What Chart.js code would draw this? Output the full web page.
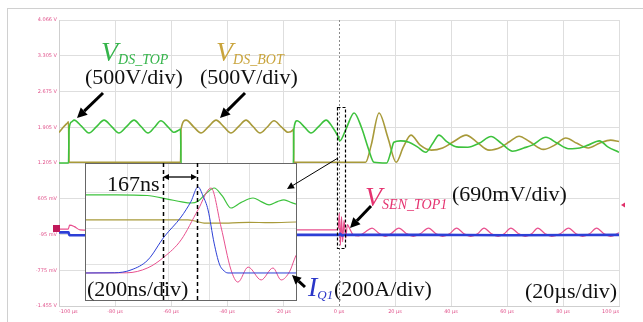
<!DOCTYPE html>
<html>
<head>
<meta charset="utf-8">
<script src="https://cdn.jsdelivr.net/npm/chart.js@4/dist/chart.umd.min.js"></script>
<style>
  html,body{margin:0;padding:0;background:#fff;}
  body{width:643px;height:322px;position:relative;overflow:hidden;}
  #frame{position:absolute;left:7px;top:8px;width:700px;height:400px;border:1px solid #d0d0d0;}
  #main{position:absolute;left:0;top:0;}
  #insetBox{position:absolute;left:85px;top:163px;width:210px;height:136px;border:1px solid #666;background:#fff;}
  #ins{position:absolute;left:0;top:0;}
  #ann{position:absolute;left:0;top:0;}
  .t{position:absolute;font-family:"Liberation Serif","Times New Roman",serif;font-size:22px;line-height:22px;color:#111;white-space:nowrap;}
  .c{position:absolute;font-family:"Liberation Serif","Times New Roman",serif;font-style:italic;line-height:28px;white-space:nowrap;}
  .c .big{font-size:28px;}
  .c .sub{font-size:14px;position:relative;top:3px;}
</style>
</head>
<body>
<div id="frame"></div>
<canvas id="main" width="643" height="322"></canvas>
<div id="insetBox"><canvas id="ins" width="210" height="136"></canvas></div>
<canvas id="ann" width="643" height="322"></canvas>

<div class="c" style="left:101px;top:38px;color:#34b44a;"><span class="big">V</span><span class="sub">DS_TOP</span></div>
<div class="t" style="left:85px;top:66px;">(500V/div)</div>
<div class="c" style="left:216px;top:38px;color:#c9a43c;"><span class="big">V</span><span class="sub">DS_BOT</span></div>
<div class="t" style="left:200px;top:66px;">(500V/div)</div>
<div class="t" style="left:107px;top:173px;">167ns</div>
<div class="t" style="left:87px;top:278px;">(200ns/div)</div>
<div class="c" style="left:365px;top:183px;color:#e53370;"><span class="big">V</span><span class="sub">SEN_TOP1</span></div>
<div class="t" style="left:452px;top:183px;">(690mV/div)</div>
<div class="c" style="left:308px;top:273px;color:#2a36c8;"><span class="big">I</span><span class="sub" style="font-size:13px;">Q1</span></div>
<div class="t" style="left:334px;top:278px;">(200A/div)</div>
<div class="t" style="left:525px;top:280px;">(20µs/div)</div>

<script>
// ---------- tick labels ----------
const xTickLabels = ['-100 µs','-80 µs','-60 µs','-40 µs','-20 µs','0 µs','20 µs','40 µs','60 µs','80 µs','100 µs'];
const yTickLabels = ['-1.455 V','-775 mV','-95 mV','605 mV','1.205 V','1.905 V','2.675 V','3.305 V','4.066 V'];

// ---------- main screen traces: [time µs, divisions] ----------
const vdsTop = [
 [-100,4.0],[-96.6,4.0],[-96.4,4.95],[-95.5,5.15],[-94.6,5.2],[-92,5.03],[-89.3,4.84],[-86.6,5.02],[-83.9,5.2],
 [-81.2,5.02],[-78.6,4.84],[-75.9,5.02],[-73.2,5.2],[-70.7,5.02],[-68.2,4.84],[-65.9,5.0],[-63.6,5.18],
 [-61.2,5.02],[-58.9,4.86],[-57.2,4.92],[-56.6,4.95],[-56.4,3.98],[-16.3,3.98],[-16.1,4.95],[-15.0,5.18],
 [-12.5,5.02],[-10,4.84],[-7.3,5.02],[-4.6,5.2],[-2.3,5.0],[-0.4,4.75],[0.3,4.62],[2.5,4.95],[5.4,5.4],
 [8,5.0],[10.5,4.4],[12.5,4.02],[17,4.0],[18.5,4.3],[19.6,4.58],[22,4.62],[25,4.58],[28,4.45],[31,4.3],
 [33.5,4.55],[35.7,4.78],[38.5,4.6],[42,4.45],[46,4.44],[50,4.55],[54.3,4.74],[58,4.55],[62,4.33],[66,4.42],
 [69,4.5],[73.9,4.72],[78,4.55],[82,4.4],[86,4.42],[89,4.5],[93,4.62],[96,4.45],[100,4.3]
];
const vdsBot = [
 [-100,4.85],[-98.5,5.0],[-97,5.12],[-96.6,5.15],[-96.4,4.02],[-56.6,4.02],[-56.4,4.95],[-54.6,5.2],
 [-52,5.02],[-49.3,4.84],[-46.6,5.02],[-43.9,5.2],[-41.2,5.02],[-38.6,4.84],[-35.9,5.02],[-33.2,5.2],
 [-30.7,5.02],[-28.2,4.84],[-25.7,5.0],[-23.2,5.18],[-20.7,5.02],[-18.2,4.86],[-16.5,4.92],[-16.3,4.95],
 [-16.1,4.02],[9.5,4.02],[11.5,4.5],[14.3,5.4],[17.5,4.7],[20.4,4.02],[23,4.45],[25.7,4.78],[29,4.5],
 [33,4.36],[37,4.42],[41,4.6],[45.4,4.78],[49,4.6],[53.6,4.36],[58,4.45],[61,4.6],[64.3,4.75],[68,4.6],
 [73,4.38],[77,4.5],[81,4.7],[85,4.55],[89,4.42],[93,4.55],[97,4.64],[100,4.6]
];
const vsenTop = [
 [-100,2.15],[-96.7,2.15],[-96.2,2.26],[-94.5,2.22],[-92.5,2.13],[-85,2.12],[-16,2.13],[-1,2.13],
 [-0.2,2.2],[0.1,2.6],[0.5,1.7],[0.9,2.5],[1.3,1.8],[1.8,2.4],[2.4,1.9],[3.0,2.28],[3.6,2.2],[5,2.0],
 [7,1.96],[9,2.05],[11.8,2.18],[14,2.05],[16.5,1.95],[18.5,2.02],[21.4,2.18],[24,2.03],[26.5,1.95],
 [29,2.02],[32,2.18],[34.5,2.03],[37,1.95],[39.5,2.02],[42,2.18],[44.5,2.03],[47,1.95],[49.5,2.02],
 [51.8,2.18],[54.3,2.03],[56.8,1.95],[59,2.02],[61.4,2.18],[64,2.03],[66.5,1.95],[68.8,2.02],[71,2.18],
 [73.5,2.03],[76,1.95],[79,2.02],[82,2.18],[84.5,2.03],[87,1.95],[89.5,2.02],[92,2.18],[94.5,2.03],
 [97,1.95],[100,2.05]
];
const iq1 = [
 [-100,2.06],[-96.6,2.06],[-96.3,1.98],[-85,1.98],[-16,1.99],[0,1.99],[0.5,2.02],[1,1.97],[2,1.99],
 [30,1.99],[60,1.98],[100,1.99]
];

// ---------- inset (zoom) traces: [time ns, divisions] ----------
const insTop = [
 [0,2.94],[150,2.94],[300,2.92],[400,2.82],[470,2.74],[515,2.71],[550,2.76],[590,2.98],[629,3.13],
 [670,2.9],[712,2.57],[760,2.72],[820,2.85],[860,2.75],[899,2.66],[940,2.75],[972,2.8],[1010,2.72],[1031,2.68]
];
const insBot = [
 [0,2.24],[500,2.24],[540,2.2],[580,2.15],[700,2.15],[800,2.17],[900,2.16],[1031,2.18]
];
const insSen = [
 [0,0.755],[200,0.76],[304,0.9],[383,1.2],[467,1.68],[550,2.52],[614,3.13],[663,2.04],[712,0.84],
 [746,0.5],[796,0.92],[860,0.56],[918,0.895],[958,0.56],[1000,0.8],[1022,1.12],[1031,1.25]
];
const insIq = [
 [0,0.755],[140,0.76],[221,0.84],[304,1.12],[383,1.76],[467,2.32],[515,2.75],[550,3.16],[575,2.9],
 [599,2.52],[629,1.59],[655,1.0],[673,0.84],[697,0.755],[1031,0.755]
];

const toXY = a => a.map(p => ({x:p[0], y:p[1]}));
const GREEN = '#3dc23d', OLIVE = '#a89a3a', PINK = '#e8508e', BLUE = '#2c3fd6';

const zeroLine = {
  id:'zeroLine',
  beforeDatasetsDraw(chart){
    const {ctx, chartArea:a, scales:{x}} = chart;
    const px = Math.round(x.getPixelForValue(0))+0.5;
    ctx.save();
    ctx.strokeStyle='#8a8a8a'; ctx.lineWidth=1; ctx.setLineDash([2,2]);
    ctx.beginPath(); ctx.moveTo(px,a.top); ctx.lineTo(px,a.bottom); ctx.stroke();
    ctx.restore();
  }
};

new Chart(document.getElementById('main'), {
  type:'line',
  data:{datasets:[
    {data:toXY(iq1), borderColor:BLUE, borderWidth:2.6},
    {data:toXY(vsenTop), borderColor:PINK, borderWidth:1.2},
    {data:toXY(vdsTop), borderColor:GREEN, borderWidth:1.6},
    {data:toXY(vdsBot), borderColor:OLIVE, borderWidth:1.6}
  ]},
  options:{
    responsive:false, animation:false, devicePixelRatio:1,
    elements:{point:{radius:0}, line:{cubicInterpolationMode:'monotone'}},
    plugins:{legend:{display:false}, tooltip:{enabled:false}},
    layout:{padding:{top:20,right:24,left:0,bottom:0}},
    scales:{
      x:{type:'linear', min:-100, max:100,
         afterFit(s){ s.height = 16; },
         ticks:{stepSize:20, autoSkip:false, maxRotation:0, align:'inner', padding:3,
                font:{size:5, family:'DejaVu Sans'}, color:'#e0508a',
                callback:(v,i)=>xTickLabels[i]},
         grid:{color:c=> (c.tick && c.tick.value===0) ? 'rgba(0,0,0,0)' : '#dedede', drawTicks:false},
         border:{color:'#cfcfcf'}},
      y:{type:'linear', min:0, max:8,
         afterFit(s){ s.width = 59; },
         ticks:{stepSize:1, autoSkip:false, align:'inner', padding:2,
                font:{size:5, family:'DejaVu Sans'}, color:'#e0508a',
                callback:(v,i)=>yTickLabels[i]},
         grid:{color:'#dedede', drawTicks:false},
         border:{color:'#cfcfcf'}}
    }
  },
  plugins:[zeroLine]
});

const insetGridX = [205, 405, 605, 805];
const insetGridY = [1.0, 2.0, 3.0];

new Chart(document.getElementById('ins'), {
  type:'line',
  data:{datasets:[
    {data:toXY(insIq), borderColor:BLUE, borderWidth:1},
    {data:toXY(insSen), borderColor:PINK, borderWidth:1},
    {data:toXY(insTop), borderColor:GREEN, borderWidth:1.2},
    {data:toXY(insBot), borderColor:OLIVE, borderWidth:1.2}
  ]},
  options:{
    responsive:false, animation:false, devicePixelRatio:1,
    elements:{point:{radius:0}, line:{cubicInterpolationMode:'monotone'}},
    plugins:{legend:{display:false}, tooltip:{enabled:false}},
    layout:{padding:0},
    scales:{
      x:{type:'linear', min:0, max:1031,
         afterBuildTicks(s){ s.ticks = insetGridX.map(v=>({value:v})); },
         afterFit(s){ s.height = 0; },
         ticks:{display:false}, grid:{color:'#e2e2e2', drawTicks:false}, border:{display:false}},
      y:{type:'linear', min:0, max:3.8,
         afterBuildTicks(s){ s.ticks = insetGridY.map(v=>({value:v})); },
         afterFit(s){ s.width = 0; },
         ticks:{display:false}, grid:{color:'#e2e2e2', drawTicks:false}, border:{display:false}}
    }
  }
});

// ---------- annotations (arrows, dashed markers) ----------
const ac = document.getElementById('ann').getContext('2d');
function arrow(x1,y1,x2,y2,w,head){
  const ang=Math.atan2(y2-y1,x2-x1);
  const bx=x2-head*Math.cos(ang), by=y2-head*Math.sin(ang);
  ac.save(); ac.strokeStyle='#000'; ac.fillStyle='#000'; ac.lineWidth=w; ac.setLineDash([]);
  ac.beginPath(); ac.moveTo(x1,y1); ac.lineTo(bx,by); ac.stroke();
  ac.beginPath(); ac.moveTo(x2,y2);
  ac.lineTo(bx+head*0.5*Math.sin(ang), by-head*0.5*Math.cos(ang));
  ac.lineTo(bx-head*0.5*Math.sin(ang), by+head*0.5*Math.cos(ang));
  ac.closePath(); ac.fill(); ac.restore();
}
arrow(103,93,77,118,3,10);
arrow(245,93,220,118,3,10);
arrow(371,206,350,228,3,10);
arrow(305,287,292,275,3,9);
arrow(338,158,287,189,1,7);
arrow(180,177,163,177,1.3,6);
arrow(180,177,197,177,1.3,6);
ac.save(); ac.strokeStyle='#000'; ac.setLineDash([4,3]); ac.lineWidth=1.5;
ac.beginPath(); ac.moveTo(163.5,163); ac.lineTo(163.5,300); ac.moveTo(197.5,163); ac.lineTo(197.5,300); ac.stroke();
ac.lineWidth=1.2; ac.setLineDash([3,2]); ac.strokeRect(337.5,107.5,8,141);
ac.restore();
// channel marker (left) and trigger marker (right)
ac.fillStyle='#c0185a'; ac.fillRect(53,225,7,7);
ac.fillStyle='#e0306a'; ac.beginPath(); ac.moveTo(621,205); ac.lineTo(625,202.5); ac.lineTo(625,207.5); ac.closePath(); ac.fill();
</script>
</body>
</html>
